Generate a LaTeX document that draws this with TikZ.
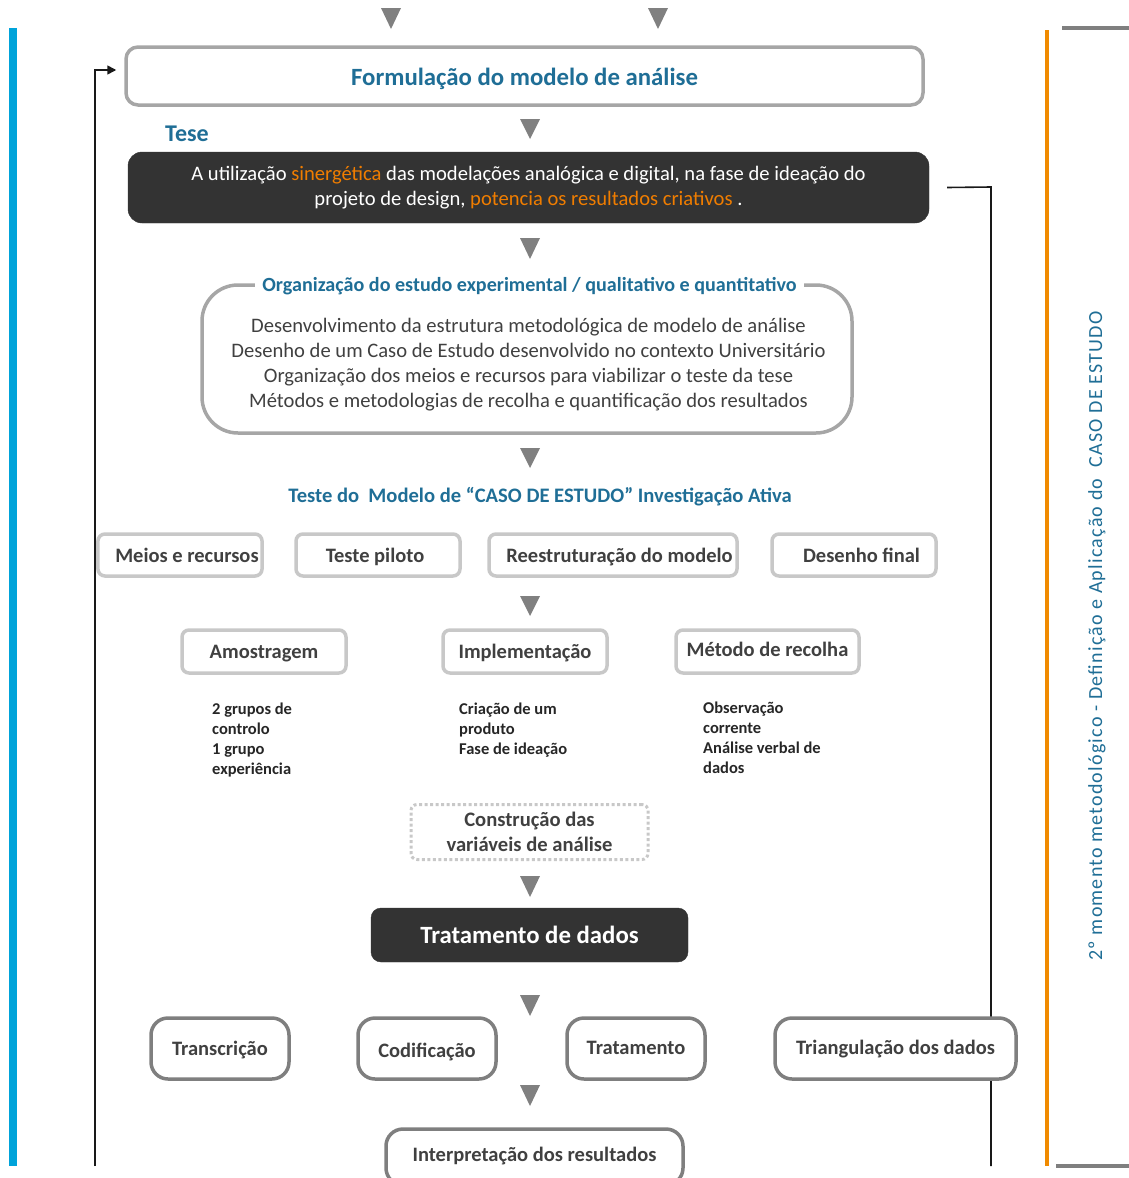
\documentclass[tikz,border=0pt]{standalone}
\usepackage{fontspec}
\setmainfont{Carlito}
\usetikzlibrary{arrows.meta,calc}

\definecolor{titleblue}{HTML}{1F6E96}
\definecolor{accent}{HTML}{F07D00}
\definecolor{barblue}{HTML}{00A3DA}
\definecolor{barorange}{HTML}{F08A00}
\definecolor{darkfill}{HTML}{333333}
\definecolor{bodygray}{HTML}{404040}
\definecolor{framegray}{HTML}{A6A6A6}
\definecolor{lightframe}{HTML}{C8C8C8}
\definecolor{midframe}{HTML}{7F7F7F}
\definecolor{tricolor}{HTML}{808080}

\tikzset{
  mainframe/.style={draw=framegray, line width=3.5pt, rounded corners=12pt, fill=white},
  darkbox/.style={fill=darkfill, draw=darkfill, rounded corners=14pt, text=white},
  stagebox/.style={draw=lightframe, line width=3.5pt, rounded corners=7pt, fill=white,
    text=bodygray, font=\fontsize{20.5}{22}\selectfont\bfseries, minimum height=42pt,
    text height=16pt, text depth=2pt},
  stepnote/.style={anchor=north west, align=left, text=black!85,
    font=\fontsize{16.5}{20}\selectfont\bfseries, inner sep=0pt},
  phasebox/.style={draw=midframe, line width=3.5pt, rounded corners=17pt, fill=white,
    text=bodygray, font=\fontsize{20.5}{22}\selectfont\bfseries, minimum height=61pt,
    text height=16pt, text depth=2pt},
  link/.style={draw=black!90, line width=1.6pt},
}
% downward pointing grey marker, centred on x, top at y1, bottom at y2
\newcommand\downmark[3]{\fill[tricolor] (#1-10,#2) -- (#1+10,#2) -- (#1,#3) -- cycle;}

\begin{document}
\begin{tikzpicture}[x=1pt,y=-1pt]
\useasboundingbox (0,0) rectangle (1129,1178);

% side bars
\fill[barblue] (9,28) rectangle (17,1166);
\fill[barorange] (1045,30) rectangle (1049,1166);
\fill[midframe] (1062,26) rectangle (1129,30);
\fill[midframe] (1056,1164) rectangle (1129,1168);

% top markers
\downmark{391}{8}{29}
\downmark{658}{8}{29}

% formulation of the model
\node[mainframe, minimum width=797pt, minimum height=58pt, text height=19pt, text depth=1pt,
  text=titleblue, font=\fontsize{24.8}{26}\selectfont\bfseries] (formul) at (524.5,76)
  {Formulação do modelo de análise};

\node[anchor=west, text=titleblue, font=\fontsize{24}{26}\selectfont\bfseries, inner sep=0pt]
  (teselbl) at (165,134) {Tese};
\downmark{530}{119}{139}

% thesis statement
\node[darkbox, minimum width=801pt, minimum height=71pt, align=center,
  font=\fontsize{20.6}{25.5}\selectfont] (tese) at (528.5,187.5)
  {A utilização \textcolor{accent}{sinergética} das modelações analógica e digital, na fase de ideação do\\
   projeto de design, \textcolor{accent}{potencia os resultados criativos} .};

% return line from the thesis, running behind the later boxes
\coordinate (retturn) at (991,187);
\coordinate (retbase) at (991,1166);
\draw[link] ([xshift=18pt]tese.east) -- (retturn) -- (retbase);

\downmark{530}{238}{259}

% organisation of the study
\node[draw=framegray, line width=3.5pt, rounded corners=36pt, minimum width=650pt,
  minimum height=148pt] (org) at (527,359) {};
\node[fill=white, inner xsep=7pt, inner ysep=2pt, text=titleblue,
  font=\fontsize{20.1}{22}\selectfont\bfseries] (orgtitle) at (529.5,286)
  {Organização do estudo experimental / qualitativo e quantitativo};
\node[align=center, text=bodygray, font=\fontsize{20.6}{25}\selectfont] (orgbody) at (528.5,365)
  {Desenvolvimento da estrutura metodológica de modelo de análise\\
   Desenho de um Caso de Estudo desenvolvido no contexto Universitário\\
   Organização dos meios e recursos para viabilizar o teste da tese\\
   Métodos e metodologias de recolha e quantificação dos resultados};

\downmark{530}{448}{468}

\node[text=titleblue, font=\fontsize{20.6}{22}\selectfont\bfseries] (testlbl) at (540,497)
  {Teste do\ \ Modelo de “CASO DE ESTUDO” Investigação Ativa};

% first row of stages
\node[stagebox, minimum width=164pt] (meios) at (180,555) {\hspace*{14pt}Meios e recursos};
\node[stagebox, minimum width=164pt] (piloto) at (378,555) {Teste piloto\hspace*{6pt}};
\node[stagebox, minimum width=248pt] (reestr) at (613,555) {\hspace*{13pt}Reestruturação do modelo};
\node[stagebox, minimum width=164pt] (desenho) at (854,555) {\hspace*{15pt}Desenho final};

\downmark{530}{596}{616}

% second row of stages
\node[stagebox, minimum width=164pt, minimum height=43pt] (amostra) at (264,651.5) {Amostragem};
\node[stagebox, minimum width=164pt, minimum height=43pt] (implem) at (525,651.5) {Implementação};
\node[stagebox, minimum width=183pt, minimum height=43pt] (metodo) at (767.5,651.5)
  {\raisebox{2pt}{Método de recolha}};

\node[stepnote] (amostranote) at (212,703)
  {2 grupos de\\controlo\\1 grupo\\experiência};
\node[stepnote] (implemnote) at (459,703)
  {Criação de um\\produto\\Fase de ideação};
\node[stepnote] (metodonote) at (703,702)
  {Observação\\corrente\\Análise verbal de\\dados};

% analysis variables
\node[draw=lightframe, line width=3pt, dash pattern=on 3pt off 2.5pt, rounded corners=6pt,
  minimum width=237pt, minimum height=55pt, align=center, text=bodygray,
  font=\fontsize{20.6}{25}\selectfont\bfseries] (variav) at (529.5,832)
  {Construção das\\variáveis de análise};

\downmark{530}{876}{897}

\node[darkbox, rounded corners=10pt, minimum width=317pt, minimum height=54pt,
  font=\fontsize{24.8}{26}\selectfont\bfseries] (tratdados) at (529.5,935) {Tratamento de dados};

\downmark{530}{995}{1016}

% data processing phases
\node[phasebox, minimum width=138pt] (transcr) at (220,1048.5) {Transcrição};
\node[phasebox, minimum width=138pt] (codif) at (427,1048.5) {\raisebox{-2pt}{Codificação}};
\node[phasebox, minimum width=138pt] (tratam) at (636,1048.5) {\raisebox{1pt}{Tratamento}};
\node[phasebox, minimum width=241pt] (triang) at (895.5,1048.5) {\raisebox{1pt}{Triangulação dos dados}};

\downmark{530}{1085}{1106}

\node[phasebox, minimum width=297pt, minimum height=56pt] (interp) at (534.5,1157)
  {\raisebox{3pt}{Interpretação dos resultados}};

% feedback loop into the model formulation
\coordinate (loopbase) at (95,1166);
\coordinate (loopturn) at (95,70);
\draw[link, -{Triangle[length=9pt,width=9pt]}, shorten >=8pt]
  (loopbase) -- (loopturn) -- (loopturn -| formul.west);

% phase caption
\node[rotate=90, text=titleblue, font=\fontsize{20}{22}\selectfont\addfontfeature{LetterSpace=6}]
  (phase) at (1097,636)
  {2º momento metodológico - Definição e Aplicação do\ \ CASO DE ESTUDO};

\end{tikzpicture}
\end{document}
